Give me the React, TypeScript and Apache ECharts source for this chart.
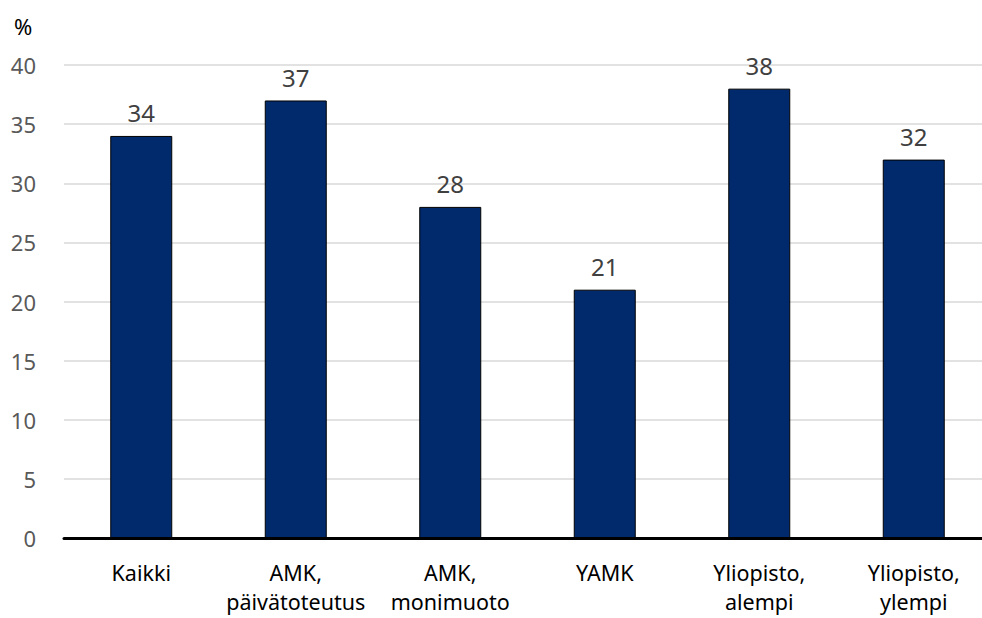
import React, { useEffect, useRef } from "react";
import * as echarts from "echarts";

const categories = [
  "Kaikki",
  "AMK,\npäivätoteutus",
  "AMK,\nmonimuoto",
  "YAMK",
  "Yliopisto,\nalempi",
  "Yliopisto,\nylempi",
];
const values = [34, 37, 28, 21, 38, 32];
const yTicks = { min: 0, max: 40, interval: 5 };

const FONT = "'Noto Sans', 'Open Sans', sans-serif";

export default function App() {
  const ref = useRef<HTMLDivElement>(null);
  useEffect(() => {
    if (!ref.current) return;
    const chart = echarts.init(ref.current, null, { renderer: "svg" });
    chart.setOption({
      animation: false,
      backgroundColor: "#ffffff",
      title: {
        text: "%",
        left: 9,
        top: 10,
        textStyle: { fontFamily: FONT, fontSize: 22, fontWeight: "normal", color: "#000000" },
      },
      grid: {
        left: 64,
        top: 65,
        width: 927,
        height: 473,
        containLabel: false,
        outerBoundsMode: "none",
      },
      xAxis: {
        type: "category",
        data: categories,
        axisLine: { show: true, lineStyle: { color: "#000000", width: 3 } },
        axisTick: { show: false },
        axisLabel: {
          interval: 0,
          margin: 20,
          color: "#000000",
          fontFamily: FONT,
          fontSize: 21.5,
          lineHeight: 29,
        },
      },
      yAxis: {
        type: "value",
        min: yTicks.min,
        max: yTicks.max,
        interval: yTicks.interval,
        axisLine: { show: false },
        axisTick: { show: false },
        splitLine: { lineStyle: { color: "#d9d9d9", width: 1.5 } },
        axisLabel: {
          margin: 28,
          color: "#595959",
          fontFamily: FONT,
          fontSize: 22,
        },
      },
      series: [
        {
          type: "bar",
          data: values,
          barWidth: 62,
          itemStyle: { color: "#012a6c", borderColor: "#000000", borderWidth: 1 },
          label: {
            show: true,
            position: "top",
            distance: 11,
            color: "#404040",
            fontFamily: FONT,
            fontSize: 24,
          },
        },
      ],
    });
    return () => chart.dispose();
  }, []);
  return (
    <div
      ref={ref}
      style={{ position: "fixed", left: 0, top: 0, width: 982, height: 618 }}
    />
  );
}
